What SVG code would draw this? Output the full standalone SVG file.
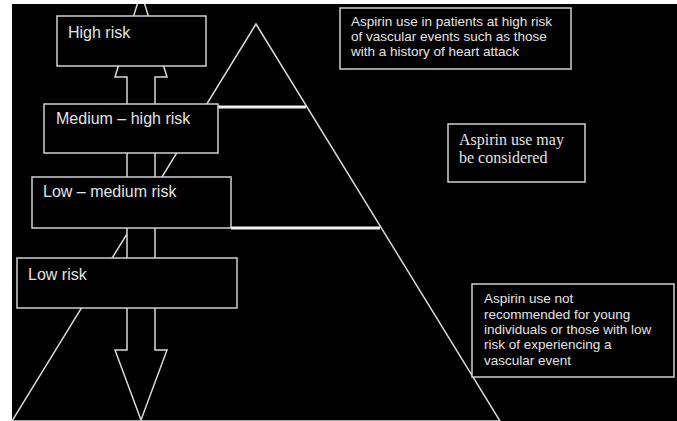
<svg xmlns="http://www.w3.org/2000/svg" width="677" height="421" viewBox="0 0 677 421">
  <style>
    .box { fill: #000; stroke: #cfcfcf; stroke-width: 1.5; }
    .shape { fill: none; stroke: #d8d8d8; stroke-width: 1.5; }
    .lbl { font-family: "Liberation Sans", Arial, sans-serif; font-size: 16px; fill: #e4e4e4; }
    .note { font-family: "Liberation Sans", Arial, sans-serif; font-size: 13.5px; fill: #e4e4e4; }
    .serif { font-family: "Liberation Serif", "Times New Roman", serif; font-size: 16px; fill: #e4e4e4; }
    .bar { stroke: #f2f2f2; stroke-width: 3; }
  </style>
  <rect x="0" y="0" width="677" height="421" fill="#ffffff"/>
  <rect x="12" y="4" width="665" height="417" fill="#000000"/>

  <polygon id="pyramid" class="shape" points="256,24 12,421 500,421"/>

  <g id="connectors">
    <line class="bar" x1="218" y1="107" x2="306" y2="107"/>
    <line class="bar" x1="231" y1="228" x2="380" y2="228"/>
  </g>

  <polygon id="arrow" points="141,-8 167,77 155,77 155,350 167,350 141,420 115,350 127,350 127,77 115,77" fill="#000" stroke="#d8d8d8" stroke-width="1.5"/>

  <g id="high-risk">
    <rect class="box" x="57" y="16" width="149" height="50"/>
    <text class="lbl" x="68" y="38">High risk</text>
  </g>
  <g id="medium-high-risk">
    <rect class="box" x="44" y="104" width="174" height="49"/>
    <text class="lbl" x="56" y="124">Medium – high risk</text>
  </g>
  <g id="low-medium-risk">
    <rect class="box" x="32" y="177" width="199" height="51"/>
    <text class="lbl" x="43" y="197">Low – medium risk</text>
  </g>
  <g id="low-risk">
    <rect class="box" x="17" y="258" width="220" height="50"/>
    <text class="lbl" x="28" y="280">Low risk</text>
  </g>

  <g id="note-high">
    <rect class="box" x="340" y="8" width="231" height="61"/>
    <text class="note" x="351" y="26">Aspirin use in patients at high risk</text>
    <text class="note" x="351" y="41">of vascular events such as those</text>
    <text class="note" x="351" y="56">with a history of heart attack</text>
  </g>
  <g id="note-medium">
    <rect class="box" x="448" y="124" width="137" height="58"/>
    <text class="serif" x="459" y="145">Aspirin use may</text>
    <text class="serif" x="459" y="163">be considered</text>
  </g>
  <g id="note-low">
    <rect class="box" x="472" y="284" width="202" height="93"/>
    <text class="note" x="484" y="303">Aspirin use not</text>
    <text class="note" x="484" y="319">recommended for young</text>
    <text class="note" x="484" y="334">individuals or those with low</text>
    <text class="note" x="484" y="349">risk of experiencing a</text>
    <text class="note" x="484" y="365">vascular event</text>
  </g>

  <rect x="0" y="0" width="677" height="4" fill="#ffffff"/>
</svg>
